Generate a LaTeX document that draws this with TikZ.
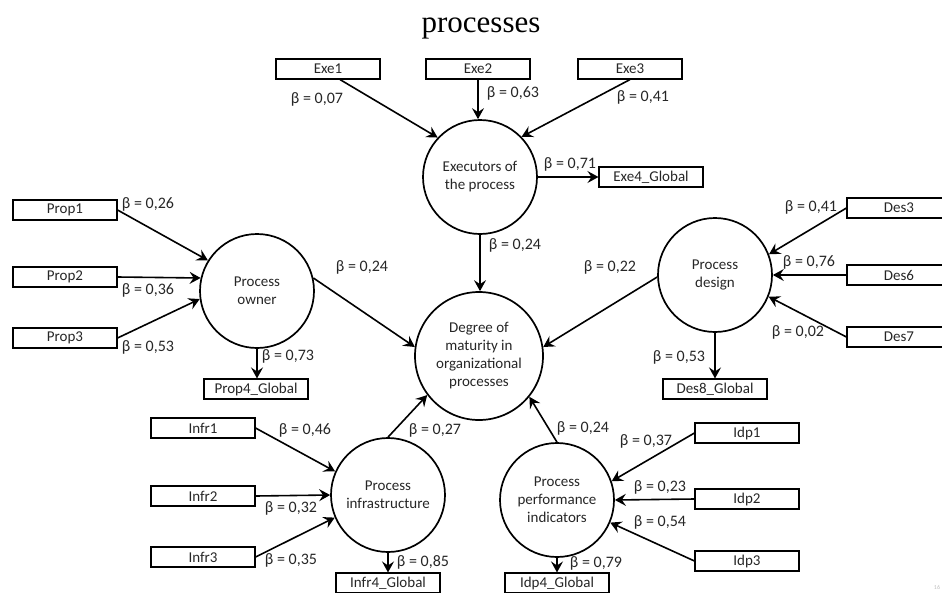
\documentclass[tikz,border=0pt]{standalone}
\usepackage{fontspec}
\setmainfont{Carlito}
\newfontfamily\titlefont{Liberation Serif}
\usetikzlibrary{arrows.meta}
\tikzset{
  box/.style={draw, line width=1.1pt, minimum width=104pt, minimum height=20pt, inner sep=0pt, font=\fontsize{15}{18}\selectfont, text=black!85},
  lat/.style={circle, draw, line width=1.7pt, minimum size=114pt, inner sep=0pt, align=center, font=\fontsize{15}{18}\selectfont, text=black!85},
  arr/.style={-{Stealth[length=11pt,width=12pt,inset=4pt]}, line width=1.6pt},
  lbl/.style={inner sep=0pt, font=\fontsize{16}{18}\selectfont, text=black!85}
}
\begin{document}
\begin{tikzpicture}[x=1pt,y=-1pt]
\useasboundingbox (0,0) rectangle (942,592);
\node[font=\titlefont\fontsize{31}{36}\selectfont, anchor=base] (title) at (481,32) {processes};

% latent circles
\node[lat] (exec) at (480,177) {Executors of\\the process};
\node[lat, minimum size=128pt] (deg) at (479,356) {Degree of\\maturity in\\organizational\\processes};
\node[lat] (own) at (257,291) {Process\\owner};
\node[lat] (des) at (715,275) {Process\\design};
\node[lat] (inf) at (388,495) {Process\\infrastructure};
\node[lat] (ppi) at (557,500) {Process\\performance\\indicators};

% indicator boxes
\node[box] (exe1) at (328,69) {Exe1};
\node[box] (exe2) at (478,69) {Exe2};
\node[box] (exe3) at (630,69) {Exe3};
\node[box] (exe4) at (651,177) {Exe4\_Global};
\node[box] (prop1) at (65,210) {Prop1};
\node[box] (prop2) at (65,277) {Prop2};
\node[box] (prop3) at (65,338) {Prop3};
\node[box] (prop4) at (256,389) {Prop4\_Global};
\node[box] (des3) at (899,208) {Des3};
\node[box] (des6) at (899,275) {Des6};
\node[box] (des7) at (899,337) {Des7};
\node[box] (des8) at (715,389) {Des8\_Global};
\node[box] (infr1) at (203,428) {Infr1};
\node[box] (infr2) at (203,496) {Infr2};
\node[box] (infr3) at (203,557) {Infr3};
\node[box] (infr4) at (388,583) {Infr4\_Global};
\node[box] (idp1) at (747,433) {Idp1};
\node[box] (idp2) at (747,499) {Idp2};
\node[box] (idp3) at (747,561) {Idp3};
\node[box] (idp4) at (557,583) {Idp4\_Global};

% connectors
\draw[arr] ([xshift=12pt]exe1.south) -- (exec.137);
\draw[arr] (exe2.south) -- (exe2.south |- exec.north);
\draw[arr] (exe3.south) -- (exec.44);
\draw[arr] (exec.east) -- (exe4.west);
\draw[arr] (exec.south) -- (exec.south |- deg.north);

\draw[arr] (prop1.east) -- (own.148);
\draw[arr] (prop2.east) -- (own.167);
\draw[arr] (prop3.east) -- (own.188);
\draw[arr] (own.south) -- (own.south |- prop4.north);
\draw[arr] (own.13) -- (deg.172);

\draw[arr] (des3.west) -- (des.21);
\draw[arr] (des6.west) -- (des.east);
\draw[arr] (des7.west) -- (des.338);
\draw[arr] (des.south) -- (des8.north);
\draw[arr] (des.182) -- (deg.8);

\draw[arr] (infr1.east) -- (inf.156);
\draw[arr] (infr2.east) -- (inf.west);
\draw[arr] (infr3.east) -- (inf.203);
\draw[arr] (inf.south) -- (infr4.north);
\draw[arr] (inf.north) -- (deg.217);

\draw[arr] (idp1.west) -- (ppi.19);
\draw[arr] (idp2.west) -- (ppi.east);
\draw[arr] (idp3.west) -- (ppi.337);
\draw[arr] (ppi.south) -- (idp4.north);
\draw[arr] (ppi.north) -- (deg.321);

% labels
\node[lbl] (l1) at (317,99) {β = 0,07};
\node[lbl] (l2) at (513,93) {β = 0,63};
\node[lbl] (l3) at (643,97) {β = 0,41};
\node[lbl] (l4) at (570,164) {β = 0,71};
\node[lbl] (l5) at (515,245) {β = 0,24};
\node[lbl] (l6) at (148,204) {β = 0,26};
\node[lbl] (l7) at (148,290) {β = 0,36};
\node[lbl] (l8) at (148,347) {β = 0,53};
\node[lbl] (l9) at (288,356) {β = 0,73};
\node[lbl] (l10) at (362,267) {β = 0,24};
\node[lbl] (l11) at (610,267) {β = 0,22};
\node[lbl] (l12) at (811,207) {β = 0,41};
\node[lbl] (l13) at (809,262) {β = 0,76};
\node[lbl] (l14) at (798,332) {β = 0,02};
\node[lbl] (l15) at (679,357) {β = 0,53};
\node[lbl] (l16) at (305,430) {β = 0,46};
\node[lbl] (l17) at (291,508) {β = 0,32};
\node[lbl] (l18) at (291,560) {β = 0,35};
\node[lbl] (l19) at (423,562) {β = 0,85};
\node[lbl] (l20) at (435,430) {β = 0,27};
\node[lbl] (l21) at (583,428) {β = 0,24};
\node[lbl] (l22) at (646,441) {β = 0,37};
\node[lbl] (l23) at (660,487) {β = 0,23};
\node[lbl] (l24) at (660,522) {β = 0,54};
\node[lbl] (l25) at (596,563) {β = 0,79};
\node[inner sep=0pt, text=black!25, font=\fontsize{6}{6}\selectfont] (pg) at (937,587) {16};
\end{tikzpicture}
\end{document}
